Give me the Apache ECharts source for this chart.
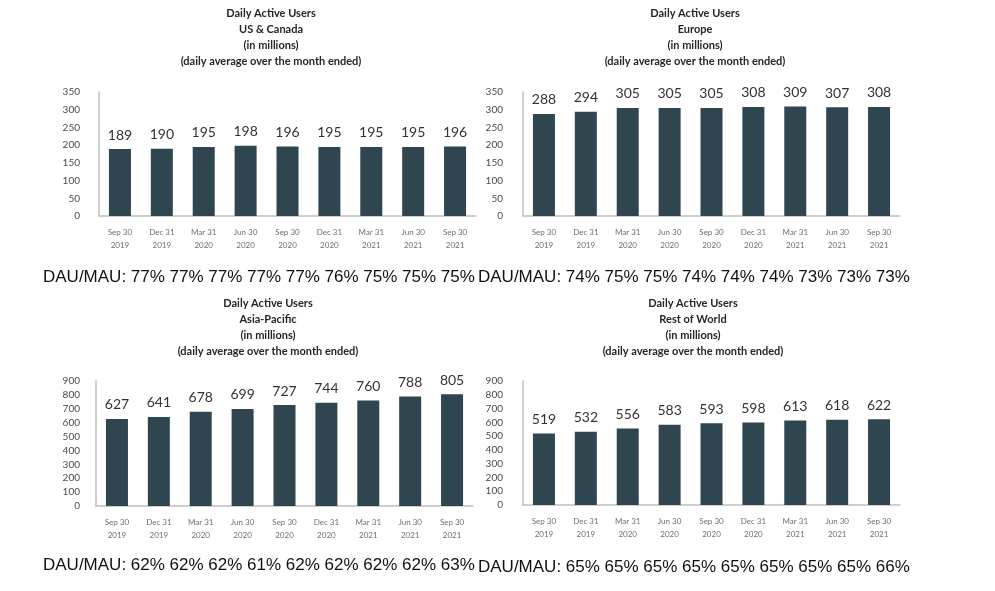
<!DOCTYPE html>
<html><head><meta charset="utf-8">
<script src="https://cdn.jsdelivr.net/npm/echarts@6/dist/echarts.min.js"></script>
<style>html,body{margin:0;padding:0;background:#fff}#c{width:995px;height:591px}</style>
</head><body><div id="c"></div>
<script>
const categories = ['Sep 30\n2019','Dec 31\n2019','Mar 31\n2020','Jun 30\n2020','Sep 30\n2020','Dec 31\n2020','Mar 31\n2021','Jun 30\n2021','Sep 30\n2021'];
const regions = ['US & Canada','Europe','Asia-Pacific','Rest of World'];
const usCanada = [189,190,195,198,196,195,195,195,196];
const europe = [288,294,305,305,305,308,309,307,308];
const asiaPacific = [627,641,678,699,727,744,760,788,805];
const restOfWorld = [519,532,556,583,593,598,613,618,622];
const dauMauUS = ['77%','77%','77%','77%','77%','76%','75%','75%','75%'];
const dauMauEU = ['74%','75%','75%','74%','74%','74%','73%','73%','73%'];
const dauMauAP = ['62%','62%','62%','61%','62%','62%','62%','62%','63%'];
const dauMauRW = ['65%','65%','65%','65%','65%','65%','65%','65%','66%'];
const yMax = [350,350,900,900];
const yInterval = [50,50,100,100];

const seriesData = [usCanada, europe, asiaPacific, restOfWorld];
const dauMau = [dauMauUS, dauMauEU, dauMauAP, dauMauRW];

const grids = [
  {left:99, top:92, width:377, height:124},
  {left:523, top:92, width:377, height:124},
  {left:96, top:381, width:377, height:125},
  {left:523, top:381, width:377, height:124}
];
const titleCenters = [[271,5],[695,5],[268,295],[693,295]];
const dauPos = [[43,269],[478,269],[43,557],[478,559]];
const yLabelMargin = [19,20,16,20];

const barColor = '#2f4550';
const fontT = 'Lato, "Open Sans", sans-serif';

const titles = [];
regions.forEach((r,i)=>{
  titles.push({
    text: 'Daily Active Users\n' + r + '\n(in millions)\n(daily average over the month ended)',
    left: titleCenters[i][0], top: titleCenters[i][1], textAlign: 'center', padding: 0,
    textStyle: {fontFamily: fontT, fontSize: 11, fontWeight: 'bold', color: '#262626', lineHeight: 16}
  });
  titles.push({
    text: 'DAU/MAU: ' + dauMau[i].join(' '),
    left: dauPos[i][0], top: dauPos[i][1], padding: 0,
    textStyle: {fontFamily: '"Liberation Sans", Arial, sans-serif', fontSize: 17, fontWeight: 'normal', color: '#111'}
  });
});

const option = {
  backgroundColor: '#fff',
  animation: false,
  title: titles,
  grid: grids,
  xAxis: grids.map((g,i)=>({
    type: 'category', gridIndex: i, data: categories,
    axisLine: {lineStyle: {color: '#bfbfbf', width: 1.5}},
    axisTick: {show: false},
    axisLabel: {fontFamily: fontT, fontSize: 8, color: '#6f6f6f', lineHeight: 13, margin: 10, interval: 0}
  })),
  yAxis: grids.map((g,i)=>({
    type: 'value', gridIndex: i, min: 0, max: yMax[i], interval: yInterval[i],
    axisLine: {show: true, lineStyle: {color: '#bfbfbf', width: 1.5}},
    axisTick: {show: false},
    splitLine: {show: false},
    axisLabel: {fontFamily: fontT, fontSize: 10, color: '#4a4a4a', margin: yLabelMargin[i]}
  })),
  series: seriesData.map((d,i)=>({
    type: 'bar', xAxisIndex: i, yAxisIndex: i, data: d, barWidth: 22,
    itemStyle: {color: barColor},
    label: {show: true, position: 'top', distance: 7, fontFamily: fontT, fontSize: 14, color: '#333'}
  }))
};
const chart = echarts.init(document.getElementById('c'), null, {renderer: 'canvas'});
chart.setOption(option);
</script>
</body></html>
